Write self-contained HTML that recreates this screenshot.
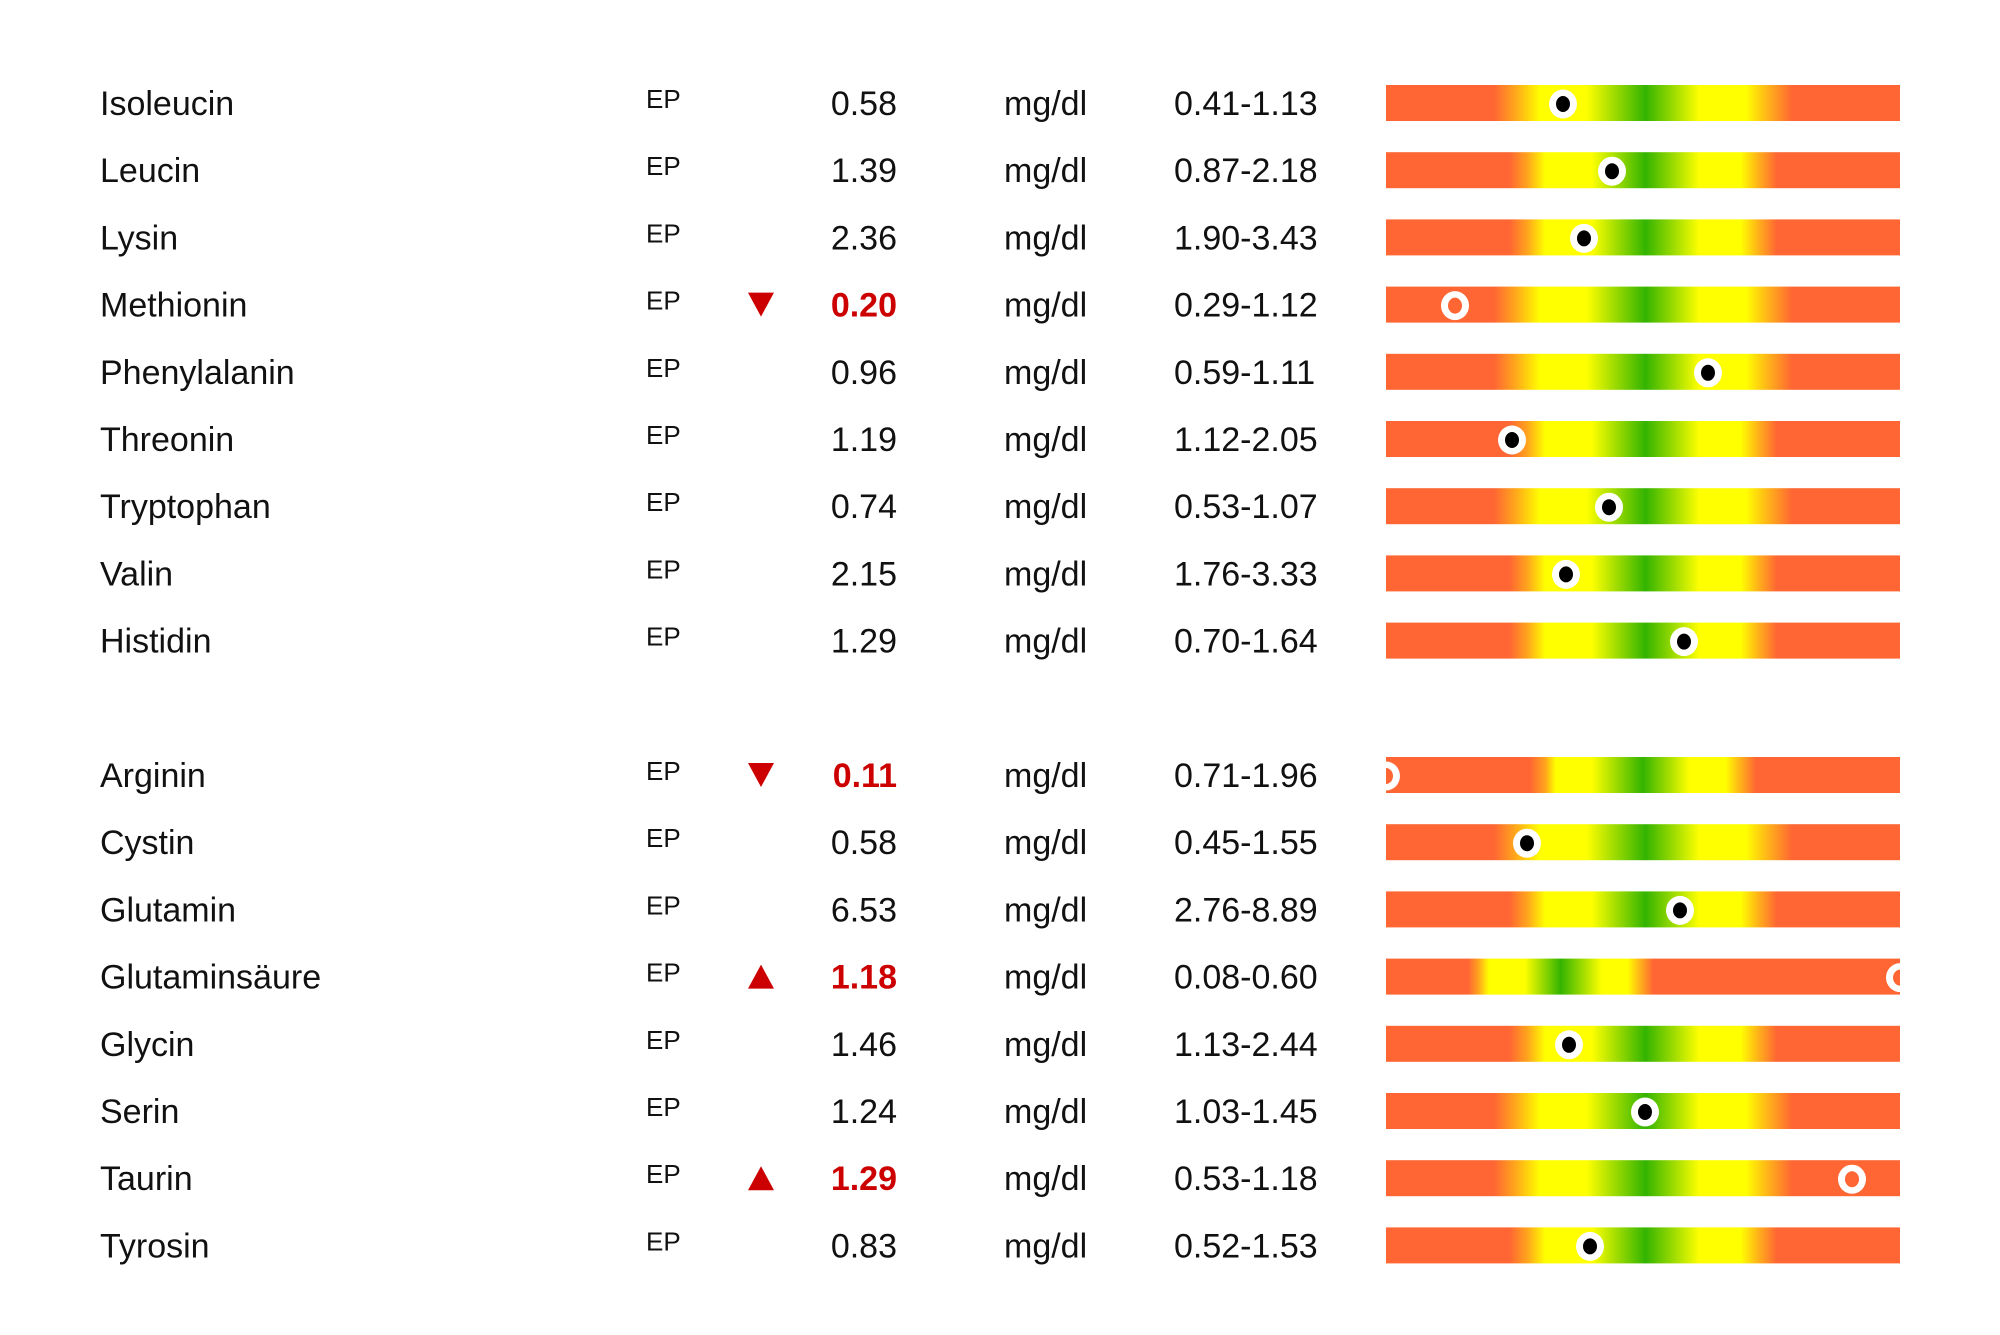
<!DOCTYPE html>
<html><head><meta charset="utf-8"><style>
html,body{margin:0;padding:0;background:#fff;}
svg{display:block;}
text{font-family:"Liberation Sans",Arial,sans-serif;}
</style></head><body>
<svg width="2000" height="1335" viewBox="0 0 2000 1335" xmlns="http://www.w3.org/2000/svg">
<defs>
<linearGradient id="gA" x1="0" x2="1" y1="0" y2="0">
<stop offset="0.21" stop-color="#FF6633"/><stop offset="0.25" stop-color="#FFA41C"/><stop offset="0.30" stop-color="#FFFF00"/><stop offset="0.39" stop-color="#FFFF00"/><stop offset="0.505" stop-color="#33B400"/><stop offset="0.61" stop-color="#FFFF00"/><stop offset="0.70" stop-color="#FFFF00"/><stop offset="0.745" stop-color="#FFB01A"/><stop offset="0.79" stop-color="#FF6633"/>
</linearGradient>
<linearGradient id="gB" x1="0" x2="1" y1="0" y2="0">
<stop offset="0.24" stop-color="#FF6633"/><stop offset="0.275" stop-color="#FFA41C"/><stop offset="0.31" stop-color="#FFFF00"/><stop offset="0.40" stop-color="#FFFF00"/><stop offset="0.505" stop-color="#33B400"/><stop offset="0.61" stop-color="#FFFF00"/><stop offset="0.69" stop-color="#FFFF00"/><stop offset="0.725" stop-color="#FFB01A"/><stop offset="0.76" stop-color="#FF6633"/>
</linearGradient>
<linearGradient id="gC" x1="0" x2="1" y1="0" y2="0">
<stop offset="0.28" stop-color="#FF6633"/><stop offset="0.31" stop-color="#FFA41C"/><stop offset="0.33" stop-color="#FFFF00"/><stop offset="0.40" stop-color="#FFFF00"/><stop offset="0.50" stop-color="#33B400"/><stop offset="0.59" stop-color="#FFFF00"/><stop offset="0.66" stop-color="#FFFF00"/><stop offset="0.69" stop-color="#FFB01A"/><stop offset="0.72" stop-color="#FF6633"/>
</linearGradient>
<linearGradient id="gD" x1="0" x2="1" y1="0" y2="0">
<stop offset="0.16" stop-color="#FF6633"/><stop offset="0.18" stop-color="#FFA41C"/><stop offset="0.20" stop-color="#FFFF00"/><stop offset="0.27" stop-color="#FFFF00"/><stop offset="0.34" stop-color="#33B400"/><stop offset="0.42" stop-color="#FFFF00"/><stop offset="0.47" stop-color="#FFFF00"/><stop offset="0.495" stop-color="#FFB01A"/><stop offset="0.52" stop-color="#FF6633"/>
</linearGradient>
<clipPath id="bc"><rect x="1386" y="0" width="514" height="1335"/></clipPath>
</defs>
<g id="rows"></g>
</svg>
<script>
var rows=[
["Isoleucin","0.58","0.41-1.13",0,"A",1563,0],
["Leucin","1.39","0.87-2.18",1,"B",1612,0],
["Lysin","2.36","1.90-3.43",2,"B",1584,0],
["Methionin","0.20","0.29-1.12",3,"A",1455,-1],
["Phenylalanin","0.96","0.59-1.11",4,"A",1708,0],
["Threonin","1.19","1.12-2.05",5,"B",1512,0],
["Tryptophan","0.74","0.53-1.07",6,"A",1609,0],
["Valin","2.15","1.76-3.33",7,"B",1566,0],
["Histidin","1.29","0.70-1.64",8,"B",1684,0],
["Arginin","0.11","0.71-1.96",10,"C",1386,-1],
["Cystin","0.58","0.45-1.55",11,"A",1527,0],
["Glutamin","6.53","2.76-8.89",12,"B",1680,0],
["Glutaminsäure","1.18","0.08-0.60",13,"D",1900,1],
["Glycin","1.46","1.13-2.44",14,"B",1569,0],
["Serin","1.24","1.03-1.45",15,"A",1645,0],
["Taurin","1.29","0.53-1.18",16,"A",1852,1],
["Tyrosin","0.83","0.52-1.53",17,"B",1590,0]];
var s="";
rows.forEach(function(r){
 var c=103+r[3]*67.2, b=c+12;
 s+='<text x="100" y="'+b+'" font-size="34" fill="#111">'+r[0]+'</text>';
 s+='<text x="646" y="'+(c+5)+'" font-size="26" fill="#111">EP</text>';
 var red=r[6]!==0;
 s+='<text x="897" y="'+b+'" font-size="34" text-anchor="end" fill="'+(red?'#CC0000':'#111')+'" font-weight="'+(red?'bold':'normal')+'">'+r[1]+'</text>';
 if(r[6]<0) s+='<polygon points="748,'+(c-12)+' 774,'+(c-12)+' 761,'+(c+12)+'" fill="#CC0000"/>';
 if(r[6]>0) s+='<polygon points="748,'+(c+12)+' 774,'+(c+12)+' 761,'+(c-12)+'" fill="#CC0000"/>';
 s+='<text x="1004" y="'+b+'" font-size="34" fill="#111">mg/dl</text>';
 s+='<text x="1174" y="'+b+'" font-size="34" fill="#111">'+r[2]+'</text>';
 s+='<rect x="1386" y="'+(c-18)+'" width="514" height="36" fill="url(#g'+r[4]+')"/>';
 s+='<g clip-path="url(#bc)"><ellipse cx="'+r[5]+'" cy="'+(c+1)+'" rx="14" ry="14.5" fill="#fff"/><ellipse cx="'+r[5]+'" cy="'+(c+1)+'" rx="7" ry="8" fill="'+(red?'#FF6633':'#000')+'"/></g>';
});
document.getElementById("rows").innerHTML=s;
</script>
</body></html>
